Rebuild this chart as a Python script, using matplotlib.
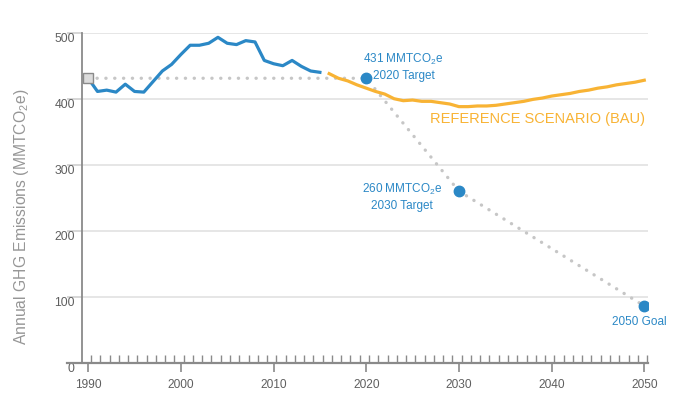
import matplotlib
matplotlib.use("Agg")
import matplotlib.pyplot as plt
import numpy as np

plt.rcParams['font.family'] = ['Liberation Sans', 'DejaVu Sans']
plt.rcParams['mathtext.fontset'] = 'custom'
plt.rcParams['mathtext.rm'] = 'Liberation Sans'

# --- data ---
hist_years = list(range(1990, 2016))
hist_vals = [431, 411, 413, 410, 422, 411, 410, 426, 442, 452, 467, 481,
             481, 484, 493, 484, 482, 488, 486, 458, 453, 450, 458, 449,
             442, 440]

bau_years = list(range(2016, 2051))
bau_vals = [438, 431, 427, 421, 416, 411, 407, 400, 397, 398, 396, 396,
            394, 392, 388, 388, 389, 389, 390, 392, 394, 396, 399, 401,
            404, 406, 408, 411, 413, 416, 418, 421, 423, 425, 428]

target_years = [1990, 2020, 2030, 2050]
target_vals = [431, 431, 260, 86]

BLUE = '#2b88c6'
ORANGE = '#f8b334'
GRID = '#e2e2e2'
AXIS = '#8a8a8a'
TXT = '#5f5f5f'

fig = plt.figure(figsize=(6.81, 3.97), dpi=100)
ax = fig.add_axes([0.12, 0.0864, 0.8315, 0.8312])
ax.set_xlim(1989.3, 2050.4)
ax.set_ylim(0, 500)

# grid + axes
ax.set_yticks([0, 100, 200, 300, 400, 500])
ax.grid(axis='y', color=GRID, lw=1.2, zorder=0)
for s in ['top', 'right', 'bottom']:
    ax.spines[s].set_visible(False)
ax.spines['left'].set_color(AXIS)
ax.spines['left'].set_linewidth(1.3)
ax.axhline(0, xmin=-0.026, xmax=1.0, color=AXIS, lw=1.6, clip_on=False, zorder=3)

ax.tick_params(axis='y', length=11, width=1.2, color='#cfcfcf', pad=-6,
               labelsize=8.8, labelcolor=TXT)
for lbl in ax.get_yticklabels():
    lbl.set_va('top')

ax.set_xticks([1990, 2000, 2010, 2020, 2030, 2040, 2050])
ax.set_xticks(np.arange(1990, 2051) + 0.3, minor=True)
ax.tick_params(axis='x', which='major', direction='out', length=6.5, width=1.2,
               color=AXIS, pad=5, labelsize=8.6, labelcolor=TXT)
ax.tick_params(axis='x', which='minor', direction='in', length=6, width=1.0,
               color=AXIS)

# target dotted path
ax.plot(target_years, target_vals, color='#c6c6c6', lw=2.4,
        linestyle=(0, (0.05, 2.6)), dash_capstyle='round', zorder=2)

# historic + BAU
ax.plot(hist_years, hist_vals, color=BLUE, lw=2.3, solid_joinstyle='round', zorder=4)
ax.plot(bau_years, bau_vals, color=ORANGE, lw=2.3, solid_joinstyle='round', zorder=4)

# markers
ax.plot(target_years[0], target_vals[0], marker='s', ms=7, mfc='#dcdcdc',
        mec='#8a8a8a', mew=1.0, zorder=5, clip_on=False)
ax.plot(target_years[1:], target_vals[1:], 'o', ms=7.5, color=BLUE, zorder=5)

# annotations
ax.annotate('431 MMTCO$_2$e', (2020, 431), xytext=(-3, 19), textcoords='offset pixels',
            ha='left', va='center', fontsize=8.5, color=BLUE)
ax.annotate('2020 Target', (2020, 431), xytext=(7, 2), textcoords='offset pixels',
            ha='left', va='center', fontsize=8.5, color=BLUE)
ax.annotate('260 MMTCO$_2$e', (2030, 260), xytext=(-57, 2), textcoords='offset pixels',
            ha='center', va='center', fontsize=8.5, color=BLUE)
ax.annotate('2030 Target', (2030, 260), xytext=(-57, -15), textcoords='offset pixels',
            ha='center', va='center', fontsize=8.5, color=BLUE)
ax.annotate('2050 Goal', (2050, 86), xytext=(-5, -16), textcoords='offset pixels',
            ha='center', va='center', fontsize=8.5, color=BLUE)
ax.annotate('REFERENCE SCENARIO (BAU)', (2050, 428), xytext=(1, -39),
            textcoords='offset pixels', ha='right', va='center', fontsize=10.5,
            color=ORANGE)

fig.text(22 / 681, 1 - 217 / 397, 'Annual GHG Emissions (MMTCO$_2$e)',
         rotation=90, ha='center', va='center', fontsize=11.3, color='#969696')

fig.savefig('out.png', dpi=100)
